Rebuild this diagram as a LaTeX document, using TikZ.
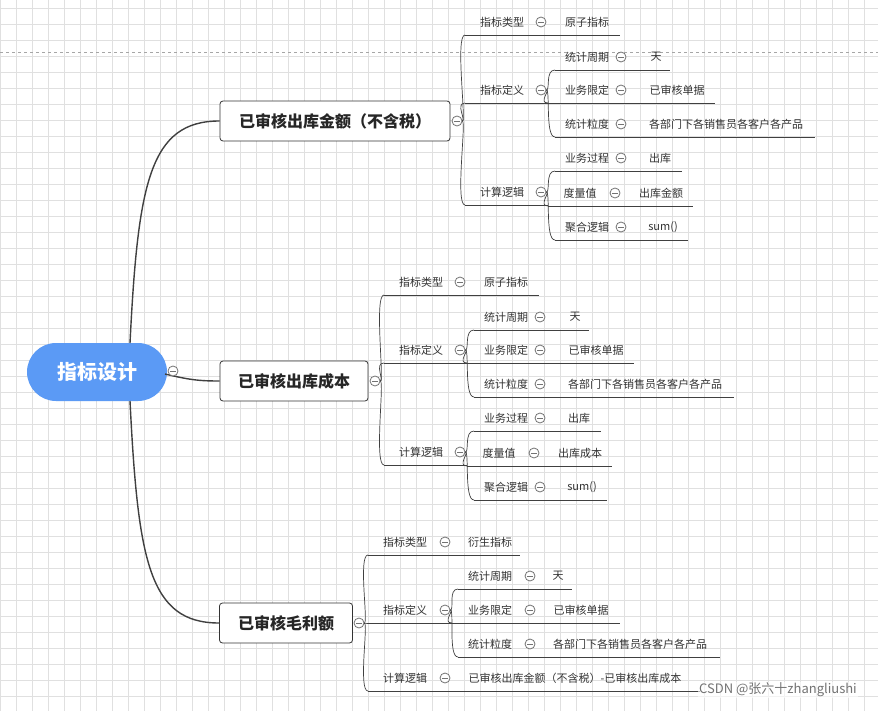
\documentclass[tikz,border=0pt]{standalone}
\usepackage{fontspec}
\setmainfont{Noto Sans CJK SC}
\begin{document}
\begin{tikzpicture}[x=1pt,y=-1pt,
  lab/.style={font=\fontsize{11}{13}\selectfont,text=black!80,inner sep=1pt},
  minus/.style={circle,draw=black!55,fill=white,line width=0.8pt,minimum size=10pt,inner sep=0pt,
    path picture={\draw[black!55,line width=0.9pt] ([xshift=-3pt]path picture bounding box.center)--([xshift=3pt]path picture bounding box.center);}},
  ul/.style={draw=black!75,line width=0.7pt},
  br/.style={draw=black!75,line width=0.7pt},
  mbr/.style={draw=black!75,line width=1.4pt},
  box/.style={draw=black!80,rounded corners=3pt,fill=white,line width=0.8pt,minimum height=40pt,
    font=\fontsize{16}{18}\selectfont\bfseries,text=black!85}]
\useasboundingbox (0,0) rectangle (878,711);
\fill[white] (0,0) rectangle (878,711);
\foreach \i in {0,16,...,880} \draw[black!12,line width=0.5pt] (\i,0) -- (\i,711);
\foreach \j in {8,24,...,711} \draw[black!12,line width=0.5pt] (0,\j) -- (878,\j);
\draw[black!35,dashed,line width=0.6pt] (0,52) -- (878,52);

\newcommand\mrow[9]{%
  \node[lab] (#1l) at (#4,#3) {#5};
  \node[minus] (#1c) at (#6,#3) {};
  \node[lab] (#1v) at (#7,#3) {#8};
  \coordinate (#1s) at (#2,#3+13);
  \coordinate (#1e) at (#9,#3+13);
  \draw[ul] (#1s) -- (#1e);}
\newcommand\mmid[6]{%
  \node[lab] (#1l) at (#4,#3) {#5};
  \coordinate (#1s) at (#2,#3+13);
  \coordinate (#1e) at (#6+7,#3+13);
  \draw[ul] (#1s) -- (#1e);
  \node[minus] (#1c) at (#6,#3) {};}
\newcommand\conn[2]{\draw[br] (#1.east) .. controls +(4,0) and +(-10,0) .. (#2);}
\newcommand\metric[4]{%
 \begin{scope}[shift={(#2,#3)}]
  \mrow{#1t}{465}{22}{502}{指标类型}{541}{587}{原子指标}{620}
  \mmid{#1d}{465}{90}{502}{指标定义}{541}
  \mrow{#1da}{555}{57}{587}{统计周期}{621}{656}{天}{670}
  \mrow{#1db}{548}{90}{587}{业务限定}{621}{677}{已审核单据}{715}
  \mrow{#1dc}{555}{124}{587}{统计粒度}{621}{726}{各部门下各销售员各客户各产品}{815}
  \mmid{#1c}{465}{192}{502}{计算逻辑}{541}
  \mrow{#1ca}{555}{158}{587}{业务过程}{621}{660}{出库}{682}
  \mrow{#1cb}{548}{193}{580}{度量值}{615}{661}{#4}{693}
  \mrow{#1cc}{555}{227}{587}{聚合逻辑}{621}{663}{sum()}{688}
 \end{scope}}

% root
\node[fill={rgb,255:red,91;green,154;blue,245},rounded corners=29pt,minimum width=140pt,minimum height=58pt,
  text=white,font=\fontsize{20}{22}\selectfont\bfseries] (root) at (97,372) {指标设计};
\node[box,minimum width=230pt] (B1) at (335,121) {已审核出库金额（不含税）};
\node[box,minimum width=148pt] (B2) at (294,381) {已审核出库成本};
\node[box,minimum width=133pt] (B3) at (286,623) {已审核毛利额};
\coordinate (rt) at (130,343);
\coordinate (rb) at (130,401);
\coordinate (rm) at (165,374);
\draw[mbr] (rt) .. controls +(8,-160) and +(-70,0) .. (B1.west);
\draw[mbr] (rm) .. controls +(25,6) and +(-20,0) .. (B2.west);
\draw[mbr] (rb) .. controls +(8,160) and +(-70,0) .. (B3.west);
\node[minus] (rc) at (173,371) {};
\node[minus] (B1c) at (457,121) {};
\node[minus] (B2c) at (375,381) {};
\node[minus] (B3c) at (359,623) {};

\metric{a}{0}{0}{出库金额}
\metric{b}{-81}{260}{出库成本}
\foreach \p/\q in {a/B1c,b/B2c}{
  \conn{\q}{\p ts} \conn{\q}{\p ds} \conn{\q}{\p cs}
  \conn{\p dc}{\p das} \conn{\p dc}{\p dbs} \conn{\p dc}{\p dcs}
  \conn{\p cc}{\p cas} \conn{\p cc}{\p cbs} \conn{\p cc}{\p ccs}
}
% third
\mrow{ct}{368}{542}{405}{指标类型}{445}{490}{衍生指标}{520}
\mmid{cd}{368}{610}{405}{指标定义}{445}
\mrow{cda}{458}{576}{490}{统计周期}{530}{558}{天}{572}
\mrow{cdb}{452}{610}{490}{业务限定}{530}{581}{已审核单据}{620}
\mrow{cdc}{458}{644}{490}{统计粒度}{530}{630}{各部门下各销售员各客户各产品}{720}
\mrow{cc}{368}{678}{405}{计算逻辑}{445}{575}{已审核出库金额（不含税）-已审核出库成本}{700}
\conn{B3c}{cts} \conn{B3c}{cds} \conn{B3c}{ccs}
\conn{cdc}{cdas} \conn{cdc}{cdbs} \conn{cdc}{cdcs}
\node[font=\fontsize{13}{15}\selectfont,text=black!55,fill=white,fill opacity=0.6,text opacity=1,inner sep=1pt] (wm) at (778,690) {CSDN @张六十zhangliushi};
\end{tikzpicture}
\end{document}
